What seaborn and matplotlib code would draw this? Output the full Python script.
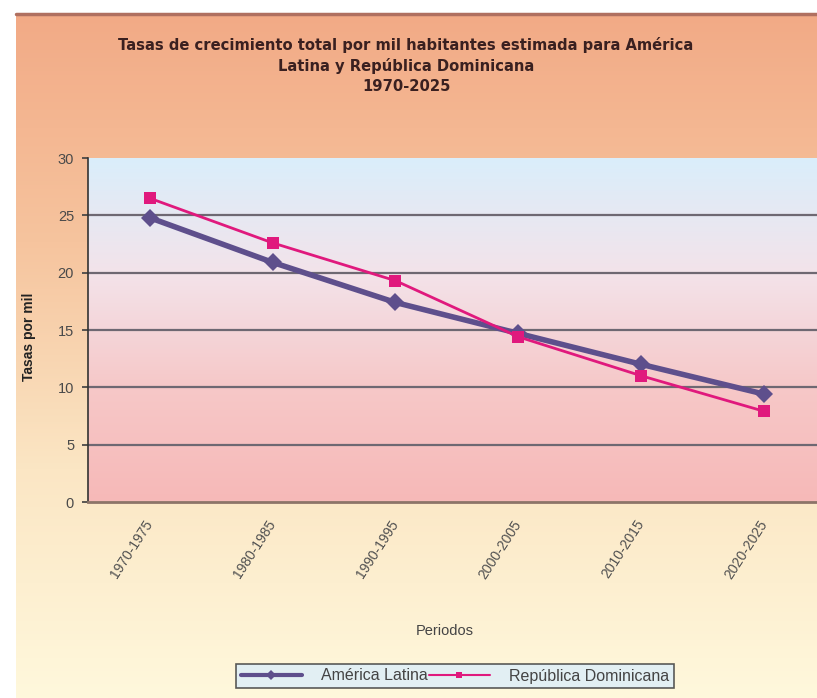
import numpy as np
import pandas as pd
import matplotlib
matplotlib.use("Agg")
import matplotlib.pyplot as plt
import matplotlib.transforms as mtransforms
from matplotlib.colors import LinearSegmentedColormap
from matplotlib.lines import Line2D
import seaborn as sns

periodos = ["1970-1975", "1980-1985", "1990-1995", "2000-2005", "2010-2015", "2020-2025"]
america_latina = [24.8, 20.9, 17.4, 14.7, 12.0, 9.4]
rep_dominicana = [26.5, 22.6, 19.3, 14.4, 11.0, 7.9]
series_names = ["América Latina", "República Dominicana"]
yticks = [0, 5, 10, 15, 20, 25, 30]

df = pd.DataFrame({
    "Periodo": periodos * 2,
    "Tasa": america_latina + rep_dominicana,
    "Serie": [series_names[0]] * len(periodos) + [series_names[1]] * len(periodos),
})

sns.set_theme(style="white")
plt.rcParams["font.family"] = ["Liberation Sans", "DejaVu Sans"]

W, H = 817, 698
fig = plt.figure(figsize=(W / 100, H / 100), dpi=100)
fig.patch.set_facecolor("white")

# chart-area background (gradient salmon -> pale yellow)
bg = fig.add_axes([16 / W, 0, 1 - 16 / W + 0.05, (H - 13) / H])
bg_cmap = LinearSegmentedColormap.from_list("bg", ["#F2AA86", "#F6C49E", "#FBE6C4", "#FFF8DC"])
grad = np.linspace(0, 1, 256).reshape(-1, 1)
bg.imshow(grad, aspect="auto", cmap=bg_cmap, extent=[0, 1, 0, 1], origin="upper")
bg.set_axis_off()
bg.set_xlim(0, 1); bg.set_ylim(0, 1)
bg.plot([0, 1], [0.999, 0.999], color="#B07060", lw=2.5, transform=bg.transAxes, clip_on=False)

# plot area
left, right, top, bottom = 88, 826, 158, 502
ax = fig.add_axes([left / W, (H - bottom) / H, (right - left) / W, (bottom - top) / H])
pa_cmap = LinearSegmentedColormap.from_list("pa", ["#DAEEFB", "#F3E3EA", "#F6C8C8", "#F7B9B8"])
ax.imshow(grad, aspect="auto", cmap=pa_cmap, extent=[-0.5, 5.5, 0, 30], origin="upper", zorder=0)

for y in yticks[1:-1]:
    ax.axhline(y, color="#6E6872", lw=1.6, zorder=1)

palette = {series_names[0]: "#5E4F8C", series_names[1]: "#E0197D"}
sns.lineplot(data=df, x="Periodo", y="Tasa", hue="Serie", style="Serie",
             markers={series_names[0]: "D", series_names[1]: "s"},
             dashes=False, palette=palette, ax=ax, legend=False, sort=False, zorder=3)
for ln in ax.get_lines():
    c = matplotlib.colors.to_hex(ln.get_color()).lower()
    if c == palette[series_names[0]].lower():
        ln.set_linewidth(4)
        ln.set_markersize(9)
    elif c == palette[series_names[1]].lower():
        ln.set_linewidth(2)
        ln.set_markersize(8.5)
    ln.set_markeredgewidth(0)

ax.set_xlim(-0.5, 5.5)
ax.set_ylim(0, 30)
ax.set_yticks(yticks)
ax.set_yticklabels([str(v) for v in yticks], fontsize=10.5, color="#4A4A4A")
ax.set_xticks(np.arange(len(periodos)))
ax.set_xticklabels(periodos, rotation=57, fontsize=10, color="#505050", ha="right", va="center",
                   rotation_mode="anchor")
offset = mtransforms.ScaledTranslation(-6 / 100, 0, fig.dpi_scale_trans)
for lbl in ax.get_xticklabels():
    lbl.set_transform(lbl.get_transform() + offset)
ax.set_xticks(np.arange(len(periodos) + 1) - 0.5, minor=True)
ax.tick_params(axis="x", which="major", length=0, pad=14)
ax.tick_params(axis="x", which="minor", length=4, color="#555555", direction="in")
ax.tick_params(axis="y", length=4, color="#444444", direction="out", pad=6, left=True)
for s in ["top", "right"]:
    ax.spines[s].set_visible(False)
ax.spines["left"].set_color("#333333")
ax.spines["left"].set_linewidth(1.2)
ax.spines["bottom"].set_color("#8C7468")
ax.spines["bottom"].set_linewidth(2)
ax.set_xlabel("Periodos", fontsize=10.5, color="#444444")
ax.set_ylabel("Tasas por mil", fontsize=10, fontweight="bold", color="#222222")
ax.xaxis.set_label_coords((445 - left) / (right - left), -(624 - bottom) / (bottom - top))
ax.yaxis.set_label_coords(-(88 - 36) / (right - left), 0.5 - (337 - 330) / (bottom - top))

fig.text(406 / W, 1 - 37 / H,
         "Tasas de crecimiento total por mil habitantes estimada para América\nLatina y República Dominicana\n1970-2025",
         ha="center", va="top", fontsize=10.6, fontweight="bold", color="#3A2020",
         family=["DejaVu Sans"], linespacing=1.4)

# legend
handles = [Line2D([], [], color=palette[series_names[0]], lw=3, marker="D", markersize=5, markeredgewidth=0),
           Line2D([], [], color=palette[series_names[1]], lw=1.5, marker="s", markersize=4, markeredgewidth=0)]
leg = fig.legend(handles, series_names, loc="center", bbox_to_anchor=(455 / W, 1 - 676 / H),
                 ncol=2, frameon=True, fontsize=11.5, handlelength=3.8, columnspacing=0.1,
                 handletextpad=1.2, borderpad=0.3, fancybox=False)
leg.get_frame().set_facecolor("#DCEEFA")
leg.get_frame().set_edgecolor("#333333")
leg.get_frame().set_linewidth(1.2)
for t in leg.get_texts():
    t.set_color("#444444")

fig.savefig("out.png", dpi=100)
